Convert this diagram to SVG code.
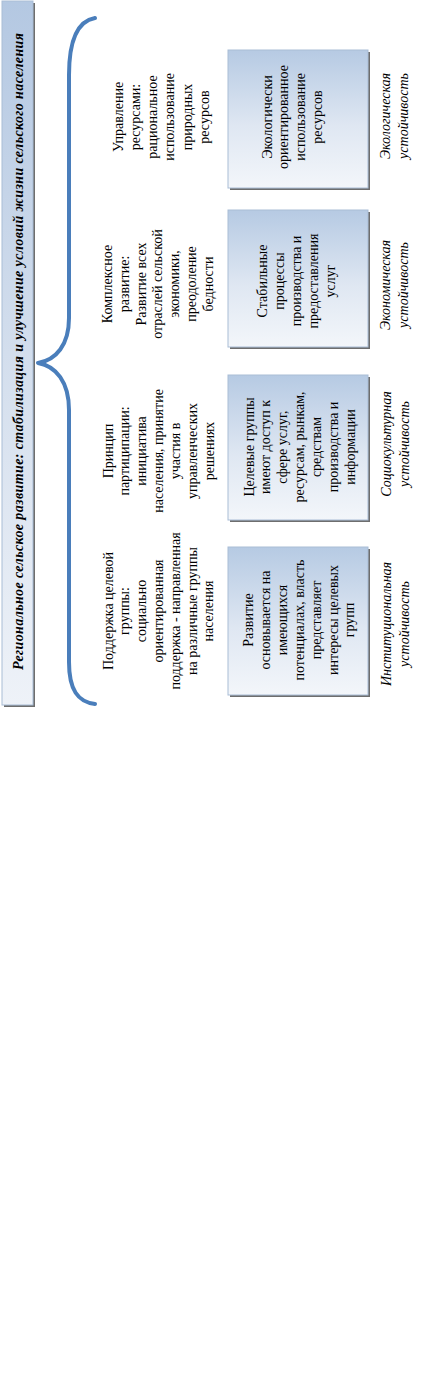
<svg xmlns="http://www.w3.org/2000/svg" width="423" height="1393" viewBox="0 0 423 1393">
<defs>
<linearGradient id="gBox" x1="0" y1="0" x2="0" y2="1">
<stop offset="0" stop-color="#b6cae3"/>
<stop offset="0.55" stop-color="#dfe7f2"/>
<stop offset="1" stop-color="#f3f6fa"/>
</linearGradient>
<linearGradient id="gBanner" x1="0" y1="0" x2="0" y2="1">
<stop offset="0" stop-color="#b4c8e2"/>
<stop offset="0.5" stop-color="#d3deed"/>
<stop offset="1" stop-color="#eef2f8"/>
</linearGradient>
</defs>
<style>
text{font-family:"Liberation Serif","DejaVu Serif","Times New Roman",serif;font-size:14px;fill:#000;text-anchor:middle}
.title{font-weight:bold;font-style:italic}
.lab{font-style:italic}
.box{fill:url(#gBox);stroke:#a9bdd6;stroke-width:1}
.shadow{fill:#6e6e6e}
.brace{fill:none;stroke:#4a7ebb;stroke-width:4;stroke-linecap:round;stroke-linejoin:round}
</style>
<rect width="423" height="1393" fill="#fff"/>

<g id="banner">
<rect class="shadow" x="4" y="3" width="31" height="704"/>
<rect x="2" y="1" width="31" height="704" fill="url(#gBanner)" stroke="#a9bdd6" stroke-width="1"/>
<text class="title" transform="translate(23,351.5) rotate(-90)" textLength="637" lengthAdjust="spacing">Региональное сельское развитие: стабилизация и улучшение условий жизни сельского населения</text>
</g>

<g id="connectors">
<path class="brace" d="M95,18 C78,21 69,40 69,75 L69,318 C69,345 56,360 38,363 C56,366 69,382 69,410 L69,662 C69,690 78,702 95,704"/>
</g>

<g id="principle-resources">
<text transform="translate(122.5,117) rotate(-90)"><tspan x="0" dy="0">Управление</tspan><tspan x="0" dy="17.3">ресурсами:</tspan><tspan x="0" dy="17.3">рациональное</tspan><tspan x="0" dy="17.3">использование</tspan><tspan x="0" dy="17.3">природных</tspan><tspan x="0" dy="17.3">ресурсов</tspan></text>
</g>
<g id="principle-complex">
<text transform="translate(112,284) rotate(-90)"><tspan x="0" dy="0">Комплексное</tspan><tspan x="0" dy="16.8">развитие:</tspan><tspan x="0" dy="16.8">Развитие всех</tspan><tspan x="0" dy="16.8">отраслей сельской</tspan><tspan x="0" dy="16.8">экономики,</tspan><tspan x="0" dy="16.8">преодоление</tspan><tspan x="0" dy="16.8">бедности</tspan></text>
</g>
<g id="principle-participation">
<text transform="translate(112.5,451) rotate(-90)"><tspan x="0" dy="0">Принцип</tspan><tspan x="0" dy="16.9">партиципации:</tspan><tspan x="0" dy="16.9">инициатива</tspan><tspan x="0" dy="16.9">населения, принятие</tspan><tspan x="0" dy="16.9">участия в</tspan><tspan x="0" dy="16.9">управленческих</tspan><tspan x="0" dy="16.9">решениях</tspan></text>
</g>
<g id="principle-support">
<text transform="translate(112.5,611) rotate(-90)"><tspan x="0" dy="0">Поддержка целевой</tspan><tspan x="0" dy="16.8">группы:</tspan><tspan x="0" dy="16.8">социально</tspan><tspan x="0" dy="16.8">ориентированная</tspan><tspan x="0" dy="16.8">поддержка - направленная</tspan><tspan x="0" dy="16.8">на различные группы</tspan><tspan x="0" dy="16.8">населения</tspan></text>
</g>

<g id="box-ecology">
<rect class="shadow" x="230" y="52" width="140" height="138"/>
<rect class="box" x="228" y="50" width="140" height="138"/>
<text transform="translate(271.5,117) rotate(-90)"><tspan x="0" dy="0">Экологически</tspan><tspan x="0" dy="16.7">ориентированное</tspan><tspan x="0" dy="16.7">использование</tspan><tspan x="0" dy="16.7">ресурсов</tspan></text>
</g>
<g id="box-economy">
<rect class="shadow" x="230" y="212" width="140" height="137"/>
<rect class="box" x="228" y="210" width="140" height="137"/>
<text transform="translate(266.5,281) rotate(-90)"><tspan x="0" dy="0">Стабильные</tspan><tspan x="0" dy="17">процессы</tspan><tspan x="0" dy="17">производства и</tspan><tspan x="0" dy="17">предоставления</tspan><tspan x="0" dy="17">услуг</tspan></text>
</g>
<g id="box-social">
<rect class="shadow" x="230" y="377" width="140" height="145"/>
<rect class="box" x="228" y="375" width="140" height="145"/>
<text transform="translate(253.5,447) rotate(-90)"><tspan x="0" dy="0">Целевые группы</tspan><tspan x="0" dy="16.9">имеют доступ к</tspan><tspan x="0" dy="16.9">сфере услуг,</tspan><tspan x="0" dy="16.9">ресурсам, рынкам,</tspan><tspan x="0" dy="16.9">средствам</tspan><tspan x="0" dy="16.9">производства и</tspan><tspan x="0" dy="16.9">информации</tspan></text>
</g>
<g id="box-institution">
<rect class="shadow" x="230" y="549" width="140" height="148"/>
<rect class="box" x="228" y="547" width="140" height="148"/>
<text transform="translate(253,620) rotate(-90)"><tspan x="0" dy="0">Развитие</tspan><tspan x="0" dy="16.9">основывается на</tspan><tspan x="0" dy="16.9">имеющихся</tspan><tspan x="0" dy="16.9">потенциалах, власть</tspan><tspan x="0" dy="16.9">представляет</tspan><tspan x="0" dy="16.9">интересы целевых</tspan><tspan x="0" dy="16.9">групп</tspan></text>
</g>

<g id="label-ecology">
<text class="lab" transform="translate(390,116) rotate(-90)"><tspan x="0" dy="0">Экологическая</tspan><tspan x="0" dy="18">устойчивость</tspan></text>
</g>
<g id="label-economy">
<text class="lab" transform="translate(390,285) rotate(-90)"><tspan x="0" dy="0">Экономическая</tspan><tspan x="0" dy="18">устойчивость</tspan></text>
</g>
<g id="label-social">
<text class="lab" transform="translate(391,444) rotate(-90)"><tspan x="0" dy="0">Социокультурная</tspan><tspan x="0" dy="18">устойчивость</tspan></text>
</g>
<g id="label-institution">
<text class="lab" transform="translate(391,624) rotate(-90)"><tspan x="0" dy="0">Институциональная</tspan><tspan x="0" dy="18">устойчивость</tspan></text>
</g>
</svg>
